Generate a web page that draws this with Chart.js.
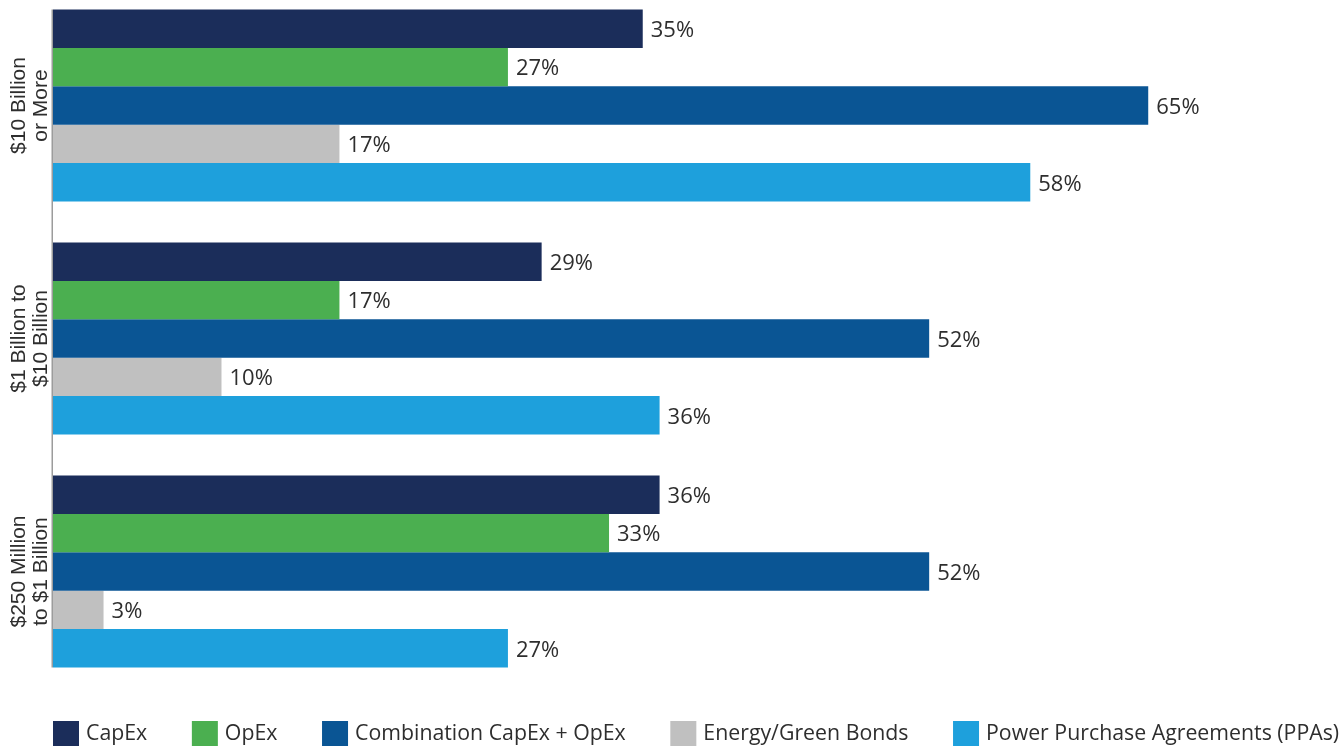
<!DOCTYPE html>
<html>
<head>
<meta charset="utf-8">
<title>Financing mechanisms by company revenue</title>
<script src="https://cdn.jsdelivr.net/npm/chart.js@4/dist/chart.umd.min.js"></script>
<style>
	html, body { margin: 0; padding: 0; background: #fff; overflow: hidden; }
	#wrap { position: absolute; left: 0; top: -11px; width: 1342px; height: 757px; }
</style>
</head>
<body>
<div id="wrap"><canvas id="BarChart"></canvas></div>
<script>
const categories = [["$10 Billion", "or More"], ["$1 Billion to", "$10 Billion"], ["$250 Million", "to $1 Billion"]];
const series_names = ["CapEx", "OpEx", "Combination CapEx + OpEx", "Energy/Green Bonds", "Power Purchase Agreements (PPAs)"];
const series_colors = ["#1b2d5a", "#4baf50", "#0a5594", "#c0c0c0", "#1ea0dc"];
const capex = [35, 29, 36];
const opex = [27, 17, 33];
const combination = [65, 52, 52];
const green_bonds = [17, 10, 3];
const ppas = [58, 36, 27];

const TEXT_COLOR = "#2e2e2e";
const VALUE_FONT = "22px 'Open Sans'";
const LEGEND_FONT = "21.3px 'Open Sans'";

// percentage printed just past the end of each bar
const value_labels = {
	id: "value_labels",
	afterDatasetsDraw(chart) {
		const ctx = chart.ctx;
		ctx.save();
		ctx.font = VALUE_FONT;
		ctx.fillStyle = TEXT_COLOR;
		ctx.textBaseline = "middle";
		chart.data.datasets.forEach((ds, i) => {
			chart.getDatasetMeta(i).data.forEach((bar, j) => {
				ctx.fillText(ds.data[j] + "%", bar.x + 8, bar.y + 2);
			});
		});
		ctx.restore();
	}
};

// rotated two-line category names plus the short axis line beside the bars
const category_axis = {
	id: "category_axis",
	afterDraw(chart) {
		const ctx = chart.ctx;
		const y = chart.scales.y;
		const area = chart.chartArea;

		const first = chart.getDatasetMeta(0).data[0];
		const last = chart.getDatasetMeta(chart.data.datasets.length - 1).data[categories.length - 1];
		ctx.save();
		ctx.strokeStyle = "#9c9c9c";
		ctx.lineWidth = 1.5;
		ctx.beginPath();
		ctx.moveTo(area.left - 0.75, first.y - first.height / 2);
		ctx.lineTo(area.left - 0.75, last.y + last.height / 2);
		ctx.stroke();

		ctx.font = "21px 'Liberation Sans'";
		ctx.fillStyle = TEXT_COLOR;
		ctx.textAlign = "center";
		ctx.textBaseline = "middle";
		categories.forEach((lines, i) => {
			ctx.save();
			ctx.translate(30, y.getPixelForValue(i));
			ctx.rotate(-Math.PI / 2);
			lines.forEach((line, k) => ctx.fillText(line, 0, (k - 0.5) * 22));
			ctx.restore();
		});
		ctx.restore();
	}
};

// single legend row under the plot, left aligned with the bars
const legend_row = {
	id: "legend_row",
	afterDraw(chart) {
		const ctx = chart.ctx;
		const box = 26;
		let x = chart.chartArea.left;
		const top = chart.chartArea.bottom + 33;
		ctx.save();
		ctx.font = LEGEND_FONT;
		ctx.textBaseline = "middle";
		chart.data.datasets.forEach(ds => {
			ctx.fillStyle = ds.backgroundColor;
			ctx.fillRect(x, top, box, box);
			ctx.fillStyle = TEXT_COLOR;
			ctx.fillText(ds.label, x + box + 7, top + box / 2);
			x += box + 7 + ctx.measureText(ds.label).width + 44.6;
		});
		ctx.restore();
	}
};

const series_values = [capex, opex, combination, green_bonds, ppas];

const data = {
	labels: categories,
	datasets: series_names.map((name, i) => ({
		label: name,
		data: series_values[i],
		backgroundColor: series_colors[i],
		borderWidth: 0,
		categoryPercentage: 0.824,
		barPercentage: 1
	}))
};

new Chart(document.getElementById("BarChart").getContext("2d"), {
	type: "bar",
	data,
	plugins: [value_labels, category_axis, legend_row],
	options: {
		indexAxis: "y",
		responsive: true,
		maintainAspectRatio: false,
		animation: false,
		layout: { padding: { top: 0, right: 0, bottom: 58, left: 0 } },
		plugins: {
			legend: { display: false },
			tooltip: { enabled: false }
		},
		scales: {
			x: {
				display: false,
				min: 0,
				max: 76.5
			},
			y: {
				grid: { display: false },
				border: { display: false },
				ticks: { display: false },
				afterFit: scale => { scale.width = 53; }
			}
		}
	}
});
</script>
</body>
</html>
